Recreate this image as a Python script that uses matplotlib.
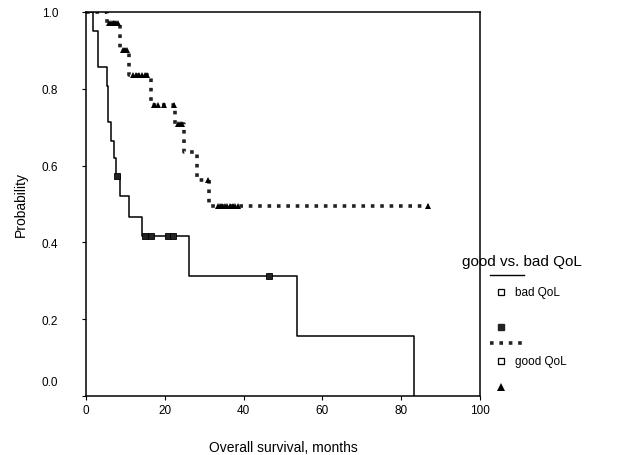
import numpy as np
import matplotlib
matplotlib.use("Agg")
import matplotlib.pyplot as plt
from matplotlib.lines import Line2D
from matplotlib.transforms import ScaledTranslation

plt.rcParams["font.family"] = ["Liberation Sans", "DejaVu Sans"]

# bad QoL: step times (months) and survival after each step
bad_t = [0, 1.7, 3.1, 5.2, 5.7, 6.4, 7.0, 7.5, 8.5, 11.0, 14.1, 26.2, 53.7, 83.2]
bad_s = [1.0, 0.951, 0.856, 0.806, 0.713, 0.665, 0.619, 0.574, 0.520, 0.466, 0.417, 0.312, 0.157, 0.0]
bad_cens_t = [7.8, 15.0, 16.5, 20.9, 22.2, 46.5]
bad_cens_s = [0.574, 0.417, 0.417, 0.417, 0.417, 0.312]

# good QoL
good_t = [0, 5.2, 8.6, 10.9, 16.5, 22.6, 24.8, 28.2, 31.2, 87.0]
good_s = [1.0, 0.971, 0.902, 0.836, 0.758, 0.708, 0.636, 0.563, 0.495, 0.495]
good_cens_t = [5.8, 6.3, 6.8, 7.2, 7.6, 8.0, 9.3, 9.8, 10.3,
               12.0, 12.8, 13.5, 14.3, 15.0, 15.6, 17.3, 18.2, 19.9, 22.3,
               23.4, 23.9, 24.4, 30.9,
               33.4, 34.0, 34.6, 35.2, 35.9, 36.5, 37.2, 37.8, 38.6, 86.8]
good_cens_s = [0.971] * 6 + [0.902] * 3 + [0.836] * 6 + [0.758] * 4 + \
              [0.708] * 3 + [0.563] + [0.495] * 10

fig = plt.figure(figsize=(6.28, 4.56), dpi=100)
ax = fig.add_axes([0.137, 0.1294, 0.627, 0.8421])

ax.step(bad_t, bad_s, where="post", color="black", lw=1.1)
ax.plot(bad_cens_t, bad_cens_s, "s", color="#222222", ms=4, mec="black", mew=0.6)

ax.step(good_t, good_s, where="post", color="#222222", lw=2.6,
        linestyle=(0, (1, 1.6)), dash_capstyle="butt")
ax.plot(good_cens_t, good_cens_s, "^", color="black", ms=5, mew=0)

ax.set_xlim(0, 100)
ax.set_ylim(0, 1.0)
ax.set_xticks([0, 20, 40, 60, 80, 100])
ax.set_yticks([0.0, 0.2, 0.4, 0.6, 0.8, 1.0])
ax.set_yticklabels(["0.0", "0.2", "0.4", "0.6", "0.8", "1.0"])
ax.tick_params(axis="y", direction="out", length=3, pad=17, labelsize=8.5)
ax.tick_params(axis="x", direction="out", length=3, pad=3, labelsize=8.5)
for sp in ax.spines.values():
    sp.set_linewidth(1.1)

# SPSS-style: the 0.0 label sits above the axis
lab0 = ax.get_yticklabels()[0]
lab0.set_transform(lab0.get_transform() + ScaledTranslation(0, 11 / 72, fig.dpi_scale_trans))

ax.set_xlabel("Overall survival, months", fontsize=10, labelpad=17)
ax.set_ylabel("Probability", fontsize=10, labelpad=10)

# legend drawn by hand to the right of the axes
fig.text(0.736, 0.425, "good vs. bad QoL", fontsize=11, ha="left", va="center")
fig.add_artist(Line2D([0.781, 0.835], [0.395, 0.395], color="black", lw=1.0))
fig.add_artist(Line2D([0.797], [0.357], marker="s", ms=4.5, mfc="white", mec="black", mew=0.9))
fig.text(0.820, 0.357, "bad QoL", fontsize=8.5, ha="left", va="center")
fig.add_artist(Line2D([0.797], [0.281], marker="s", ms=4, color="#222222"))
fig.add_artist(Line2D([0.781, 0.837], [0.246, 0.246], color="#222222", lw=2.6,
                      linestyle=(0, (1, 1.6)), dash_capstyle="butt"))
fig.add_artist(Line2D([0.797], [0.206], marker="s", ms=4.5, mfc="white", mec="black", mew=0.9))
fig.text(0.820, 0.206, "good QoL", fontsize=8.5, ha="left", va="center")
fig.add_artist(Line2D([0.797], [0.149], marker="^", ms=5.5, color="black", mew=0))

fig.savefig("out.png", dpi=100)
